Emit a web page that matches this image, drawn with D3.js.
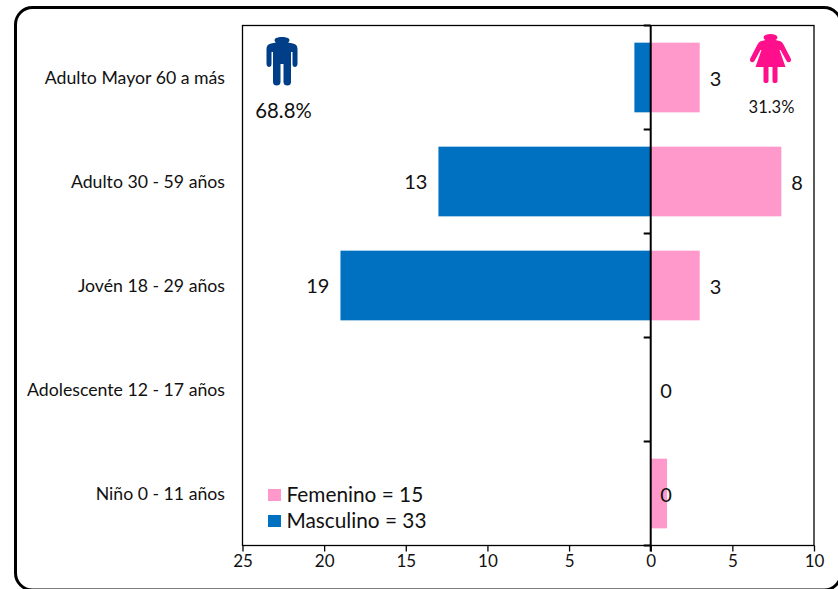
<!DOCTYPE html>
<html><head><meta charset="utf-8">
<script src="https://cdn.jsdelivr.net/npm/d3@7/dist/d3.min.js"></script>
<style>html,body{margin:0;padding:0;background:#fff}svg{display:block}text{font-family:Lato,"Open Sans",sans-serif;fill:#111}</style>
</head><body><script>
const categories = ["Adulto Mayor 60 a más","Adulto 30 - 59 años","Jovén 18 - 29 años","Adolescente 12 - 17 años","Niño 0 - 11 años"];
const masculino = [1,13,19,0,0];
const femenino = [3,8,3,0,1];
const masculinoLabels = ["","13","19","",""];
const femeninoLabels = ["3","8","3","0","0"];
const xTicks = [-25,-20,-15,-10,-5,0,5,10];
const legendItems = [["Femenino = 15","#ff99cc"],["Masculino = 33","#0070c0"]];

const svg = d3.select("body").append("svg").attr("width",838).attr("height",589);
svg.append("rect").attr("x",15.5).attr("y",7.5).attr("width",825.5).attr("height",582.5).attr("rx",17)
  .attr("fill","#fff").attr("stroke","#000").attr("stroke-width",3);

const L=242.5,R=814,T=25.5,B=545.5;
const x = d3.scaleLinear().domain([-25,10]).range([L,R]);
const y = d3.scaleBand().domain(categories).range([T,B]).paddingInner(0.33).paddingOuter(0.165);
const step = (B-T)/categories.length;

svg.append("rect").attr("x",L).attr("y",T).attr("width",R-L).attr("height",B-T).attr("fill","#fff").attr("stroke","#000").attr("stroke-width",1.3);

svg.selectAll(".m").data(categories).join("rect").attr("x",(d,i)=>x(-masculino[i])).attr("y",d=>y(d))
  .attr("width",(d,i)=>x(0)-x(-masculino[i])).attr("height",y.bandwidth()).attr("fill","#0070c0");
svg.selectAll(".f").data(categories).join("rect").attr("x",x(0)).attr("y",d=>y(d))
  .attr("width",(d,i)=>x(femenino[i])-x(0)).attr("height",y.bandwidth()).attr("fill","#ff99cc");

// bottom axis
const ax = d3.axisBottom(x).tickValues(xTicks).tickFormat(d=>Math.abs(d)).tickSize(6).tickPadding(3);
const gx = svg.append("g").attr("transform",`translate(0,${B})`).call(ax);
gx.select(".domain").remove();
gx.selectAll("line").attr("stroke","#000").attr("stroke-width",1.3);
gx.selectAll("text").style("font-size","17px").attr("fill","#111");

// centre axis
svg.append("line").attr("x1",x(0)).attr("x2",x(0)).attr("y1",T).attr("y2",B+6).attr("stroke","#000").attr("stroke-width",2);
svg.selectAll(".t").data(d3.range(categories.length+1)).join("line")
  .attr("x1",x(0)-7).attr("x2",x(0)).attr("y1",i=>T+i*step).attr("y2",i=>T+i*step).attr("stroke","#000").attr("stroke-width",2);

// category labels
svg.selectAll(".c").data(categories).join("text").attr("x",225).attr("y",d=>y(d)+y.bandwidth()/2).attr("dy","0.35em")
  .attr("text-anchor","end").style("font-size","17.7px").text(d=>d);

// value labels
svg.selectAll(".ml").data(categories).join("text").attr("x",(d,i)=>x(-masculino[i])-11).attr("y",d=>y(d)+y.bandwidth()/2).attr("dy","0.38em")
  .attr("text-anchor","end").style("font-size","20px").text((d,i)=>masculinoLabels[i]);
svg.selectAll(".fl").data(categories).join("text").attr("x",(d,i)=>femeninoLabels[i]==="0"?x(0)+9.5:x(femenino[i])+10).attr("y",d=>y(d)+y.bandwidth()/2+0.5).attr("dy","0.38em")
  .style("font-size","20px").text((d,i)=>femeninoLabels[i]);

// legend
const lg = svg.selectAll(".lg").data(legendItems).join("g").attr("transform",(d,i)=>`translate(268,${494+i*26})`);
lg.append("rect").attr("y",-5).attr("width",13).attr("height",12).attr("fill",d=>d[1]);
lg.append("text").attr("x",18.5).attr("dy","0.36em").style("font-size","20.8px").text(d=>d[0]);

// percentages
svg.append("text").attr("x",283.5).attr("y",118).attr("text-anchor","middle").style("font-size","20.3px").text("68.8%");
svg.append("text").attr("x",771.5).attr("y",113).attr("text-anchor","middle").style("font-size","16.5px").text("31.3%");

// icons
svg.append("g").attr("transform","translate(282,38)").append("path").attr("fill","#003f87")
 .attr("d","M-6,0 C-3,-1.5 3,-1.5 6,0 C8,1 8,3.5 6,4.5 L11,5.5 C14,6 15.5,8 15.5,11 L15.5,26 C15.5,28 14,29 13,29 C11.5,29 10.5,28 10.5,26 L10.5,14 L9,14 L9,44 C9,46.5 7.5,47.5 5.5,47.5 C3,47.5 1.5,46.5 1.5,44 L1.5,26 L-1.5,26 L-1.5,44 C-1.5,46.5 -3,47.5 -5.5,47.5 C-7.5,47.5 -9,46.5 -9,44 L-9,14 L-10.5,14 L-10.5,26 C-10.5,28 -11.5,29 -13,29 C-14,29 -15.5,28 -15.5,26 L-15.5,11 C-15.5,8 -14,6 -11,5.5 L-6,4.5 C-8,3.5 -8,1 -6,0 Z");
svg.append("g").attr("transform","translate(770.5,35)").append("path").attr("fill","#ff0f8c")
 .attr("d","M-5,0 C-2,-1.5 2,-1.5 5,0 C7.5,1 7.5,4 5,5 L9,6 C11,6.5 12,7.5 13,9.5 L20,23 C21,25 20.5,26.5 19,27 C17.5,27.5 16.5,27 15.5,25 L10,15 L9,15 L15,32 L7,32 L7,46 C7,47.5 6,48 4.5,48 C3,48 2,47.5 2,46 L2,32 L-2,32 L-2,46 C-2,47.5 -3,48 -4.5,48 C-6,48 -7,47.5 -7,46 L-7,32 L-15,32 L-9,15 L-10,15 L-15.5,25 C-16.5,27 -17.5,27.5 -19,27 C-20.5,26.5 -21,25 -20,23 L-13,9.5 C-12,7.5 -11,6.5 -9,6 L-5,5 C-7.5,4 -7.5,1 -5,0 Z");
</script></body></html>
